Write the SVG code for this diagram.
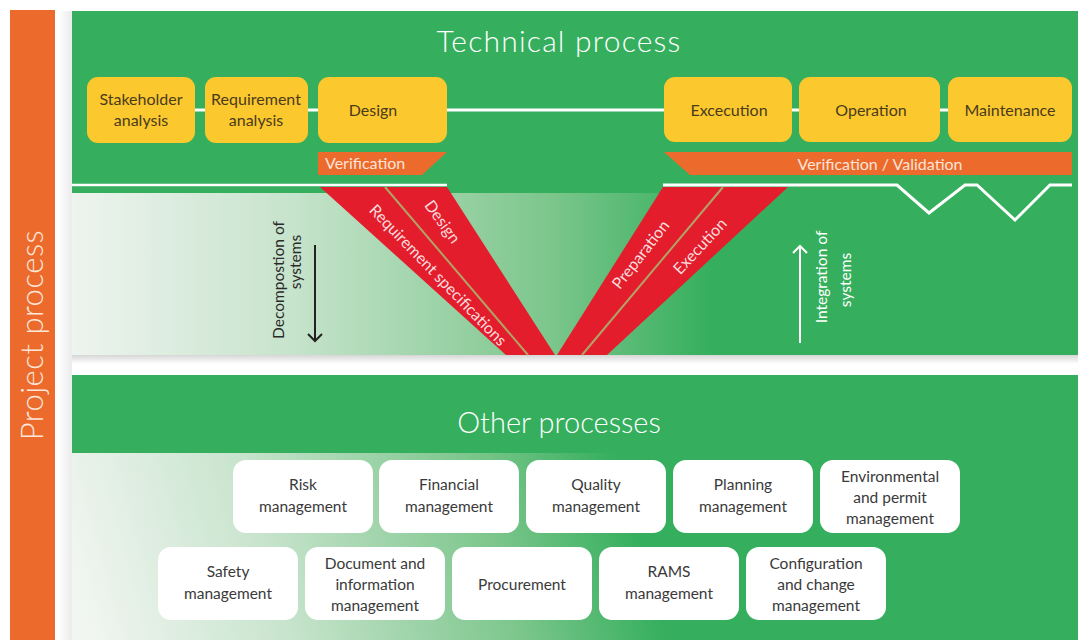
<svg xmlns="http://www.w3.org/2000/svg" width="1078" height="640" viewBox="0 0 1078 640">
<defs>
  <linearGradient id="gTop" gradientUnits="userSpaceOnUse" x1="72" y1="0" x2="710" y2="0">
    <stop offset="0" stop-color="#eef4ef"/>
    <stop offset="0.35" stop-color="#c6e3cb"/>
    <stop offset="0.75" stop-color="#7cc68c"/>
    <stop offset="1" stop-color="#35af5d"/>
  </linearGradient>
  <linearGradient id="gBot" gradientUnits="userSpaceOnUse" x1="80" y1="620" x2="620" y2="470">
    <stop offset="0" stop-color="#f2f6f2"/>
    <stop offset="0.35" stop-color="#c8e4cd"/>
    <stop offset="0.75" stop-color="#7cc68c"/>
    <stop offset="1" stop-color="#35af5d"/>
  </linearGradient>
  <linearGradient id="shadow" x1="0" y1="0" x2="0" y2="1">
    <stop offset="0" stop-color="#000" stop-opacity="0.16"/>
    <stop offset="1" stop-color="#000" stop-opacity="0"/>
  </linearGradient>
  <linearGradient id="shadowL" x1="1" y1="0" x2="0" y2="0">
    <stop offset="0" stop-color="#000" stop-opacity="0.08"/>
    <stop offset="1" stop-color="#000" stop-opacity="0"/>
  </linearGradient>
</defs>
<style>
  .green { fill:#35af5d; }
  .ybox { fill:#fbc82e; }
  .ty { font-family: Lato, 'Liberation Sans', sans-serif; font-size:16px; fill:#4a3b1c; text-anchor:middle; }
  .wbox { fill:#ffffff; }
  .tb { font-family: Lato, 'Liberation Sans', sans-serif; font-size:15.5px; fill:#3a3a3a; text-anchor:middle; }
  .title { font-family: Lato, 'Liberation Sans', sans-serif; font-weight:300; font-size:29px; fill:#ffffff; text-anchor:middle; }
  .stripe { fill:#e31d2c; }
  .div { stroke:#b3a266; stroke-width:2; }
  .st { font-family: Lato, 'Liberation Sans', sans-serif; font-size:16px; fill:#fcdcdc; text-anchor:middle; }
  .orange { fill:#ec6b2c; }
  .ot { font-family: Lato, 'Liberation Sans', sans-serif; font-size:16px; fill:#fde4d8; }
  .conn { stroke:#ffffff; stroke-width:3; fill:none; }
  .vt { font-family: Lato, 'Liberation Sans', sans-serif; font-size:15.5px; text-anchor:middle; }
</style>

<rect x="0" y="0" width="1078" height="640" fill="#ffffff"/>

<!-- Project process bar -->
<g id="project-process">
  <rect x="10" y="10" width="45" height="630" class="orange"/>
  <text class="title" transform="translate(43,335) rotate(-90)" style="fill:#fde6da;font-size:31px;letter-spacing:0.5px">Project process</text>
</g>

<!-- shadows -->
<rect x="58" y="11" width="14" height="629" fill="url(#shadowL)"/>

<!-- Technical process panel -->
<g id="technical-process">
  <rect x="72" y="11" width="1006" height="182" class="green"/>
  <rect x="72" y="193" width="1006" height="162" fill="url(#gTop)"/>
  <rect x="72" y="355" width="1006" height="9" fill="url(#shadow)"/>
  <text class="title" x="559" y="52" style="font-size:30px;letter-spacing:1.2px">Technical process</text>
</g>

<!-- Other processes panel -->
<g id="other-processes">
  <rect x="72" y="375" width="1006" height="78" class="green"/>
  <rect x="72" y="453" width="1006" height="187" fill="url(#gBot)"/>
  <text class="title" x="559" y="433">Other processes</text>
</g>

<!-- Baselines and zigzag -->
<g id="baselines">
  <line x1="72" y1="185" x2="447" y2="185" stroke="#ffffff" stroke-width="2.5"/>
  <polyline points="663,185 897,185 929,213 965,185 977,185 1015,220 1050,185 1072,185" stroke="#ffffff" stroke-width="3" fill="none"/>
</g>

<!-- V-model stripes -->
<g id="v-left">
  <polygon class="stripe" points="320,187 385,187 528,355 506,355"/>
  <polygon class="stripe" points="385,187 447,187 555,355 528,355"/>
  <line class="div" x1="385" y1="187" x2="528" y2="355"/>
  <text class="st" transform="translate(434,279) rotate(46)">Requirement specifications</text>
  <text class="st" transform="translate(438,225) rotate(54)">Design</text>
</g>
<g id="v-right">
  <polygon class="stripe" points="663,187 723,187 582,355 557,355"/>
  <polygon class="stripe" points="723,187 788,187 607,355 582,355"/>
  <line class="div" x1="723" y1="187" x2="582" y2="355"/>
  <text class="st" transform="translate(645,258) rotate(-52)">Preparation</text>
  <text class="st" transform="translate(704,250) rotate(-47)">Execution</text>
</g>

<!-- Decomposition / Integration -->
<g id="decomposition">
  <text class="vt" fill="#2a2a2a" transform="translate(284,280) rotate(-90)">Decompostion of</text>
  <text class="vt" fill="#2a2a2a" transform="translate(301,262) rotate(-90)">systems</text>
  <line x1="315" y1="245" x2="315" y2="341" stroke="#222" stroke-width="2"/>
  <polyline points="308,334 315,341 322,334" stroke="#222" stroke-width="2" fill="none"/>
</g>
<g id="integration">
  <text class="vt" fill="#ffffff" transform="translate(827,277) rotate(-90)">Integration of</text>
  <text class="vt" fill="#ffffff" transform="translate(851,280) rotate(-90)">systems</text>
  <line x1="800" y1="343" x2="800" y2="246" stroke="#fff" stroke-width="2"/>
  <polyline points="793,253 800,246 807,253" stroke="#fff" stroke-width="2" fill="none"/>
</g>

<!-- Connectors between technical steps -->
<g id="connectors">
  <line class="conn" x1="195" y1="110" x2="205" y2="110"/>
  <line class="conn" x1="308" y1="110" x2="318" y2="110"/>
  <line class="conn" x1="447" y1="110" x2="664" y2="110"/>
  <line class="conn" x1="792" y1="110" x2="799" y2="110"/>
  <line class="conn" x1="940" y1="110" x2="948" y2="110"/>
</g>

<!-- Technical steps -->
<g id="stakeholder-analysis">
  <rect class="ybox" x="87" y="77" width="108" height="66" rx="11"/>
  <text class="ty" x="141" y="105">Stakeholder</text>
  <text class="ty" x="141" y="126">analysis</text>
</g>
<g id="requirement-analysis">
  <rect class="ybox" x="205" y="77" width="103" height="66" rx="11"/>
  <text class="ty" x="256" y="105">Requirement</text>
  <text class="ty" x="256" y="126">analysis</text>
</g>
<g id="design">
  <rect class="ybox" x="318" y="77" width="129" height="66" rx="11"/>
  <text class="ty" x="373" y="116">Design</text>
</g>
<g id="execution">
  <rect class="ybox" x="664" y="77" width="128" height="65" rx="11"/>
  <text class="ty" x="729" y="116">Excecution</text>
</g>
<g id="operation">
  <rect class="ybox" x="799" y="77" width="141" height="65" rx="11"/>
  <text class="ty" x="871" y="116">Operation</text>
</g>
<g id="maintenance">
  <rect class="ybox" x="948" y="77" width="124" height="65" rx="11"/>
  <text class="ty" x="1010" y="116">Maintenance</text>
</g>

<!-- Verification bands -->
<g id="verification">
  <polygon class="orange" points="318,152 447,152 422,175 318,175"/>
  <text class="ot" x="325" y="169">Verification</text>
</g>
<g id="verification-validation">
  <polygon class="orange" points="664,152 1072,152 1072,175 690,175"/>
  <text class="ot" x="880" y="170" text-anchor="middle">Verification / Validation</text>
</g>

<!-- Other processes boxes -->
<g id="risk-management">
  <rect class="wbox" x="233" y="460" width="140" height="73" rx="13"/>
  <text class="tb" x="303" y="490">Risk</text>
  <text class="tb" x="303" y="512">management</text>
</g>
<g id="financial-management">
  <rect class="wbox" x="379" y="460" width="140" height="73" rx="13"/>
  <text class="tb" x="449" y="490">Financial</text>
  <text class="tb" x="449" y="512">management</text>
</g>
<g id="quality-management">
  <rect class="wbox" x="526" y="460" width="140" height="73" rx="13"/>
  <text class="tb" x="596" y="490">Quality</text>
  <text class="tb" x="596" y="512">management</text>
</g>
<g id="planning-management">
  <rect class="wbox" x="673" y="460" width="140" height="73" rx="13"/>
  <text class="tb" x="743" y="490">Planning</text>
  <text class="tb" x="743" y="512">management</text>
</g>
<g id="environmental-management">
  <rect class="wbox" x="820" y="460" width="140" height="73" rx="13"/>
  <text class="tb" x="890" y="482">Environmental</text>
  <text class="tb" x="890" y="503">and permit</text>
  <text class="tb" x="890" y="524">management</text>
</g>
<g id="safety-management">
  <rect class="wbox" x="158" y="547" width="140" height="73" rx="13"/>
  <text class="tb" x="228" y="577">Safety</text>
  <text class="tb" x="228" y="599">management</text>
</g>
<g id="document-management">
  <rect class="wbox" x="305" y="547" width="140" height="73" rx="13"/>
  <text class="tb" x="375" y="569">Document and</text>
  <text class="tb" x="375" y="590">information</text>
  <text class="tb" x="375" y="611">management</text>
</g>
<g id="procurement">
  <rect class="wbox" x="452" y="547" width="140" height="73" rx="13"/>
  <text class="tb" x="522" y="590">Procurement</text>
</g>
<g id="rams-management">
  <rect class="wbox" x="599" y="547" width="140" height="73" rx="13"/>
  <text class="tb" x="669" y="577">RAMS</text>
  <text class="tb" x="669" y="599">management</text>
</g>
<g id="configuration-management">
  <rect class="wbox" x="746" y="547" width="140" height="73" rx="13"/>
  <text class="tb" x="816" y="569">Configuration</text>
  <text class="tb" x="816" y="590">and change</text>
  <text class="tb" x="816" y="611">management</text>
</g>
</svg>
